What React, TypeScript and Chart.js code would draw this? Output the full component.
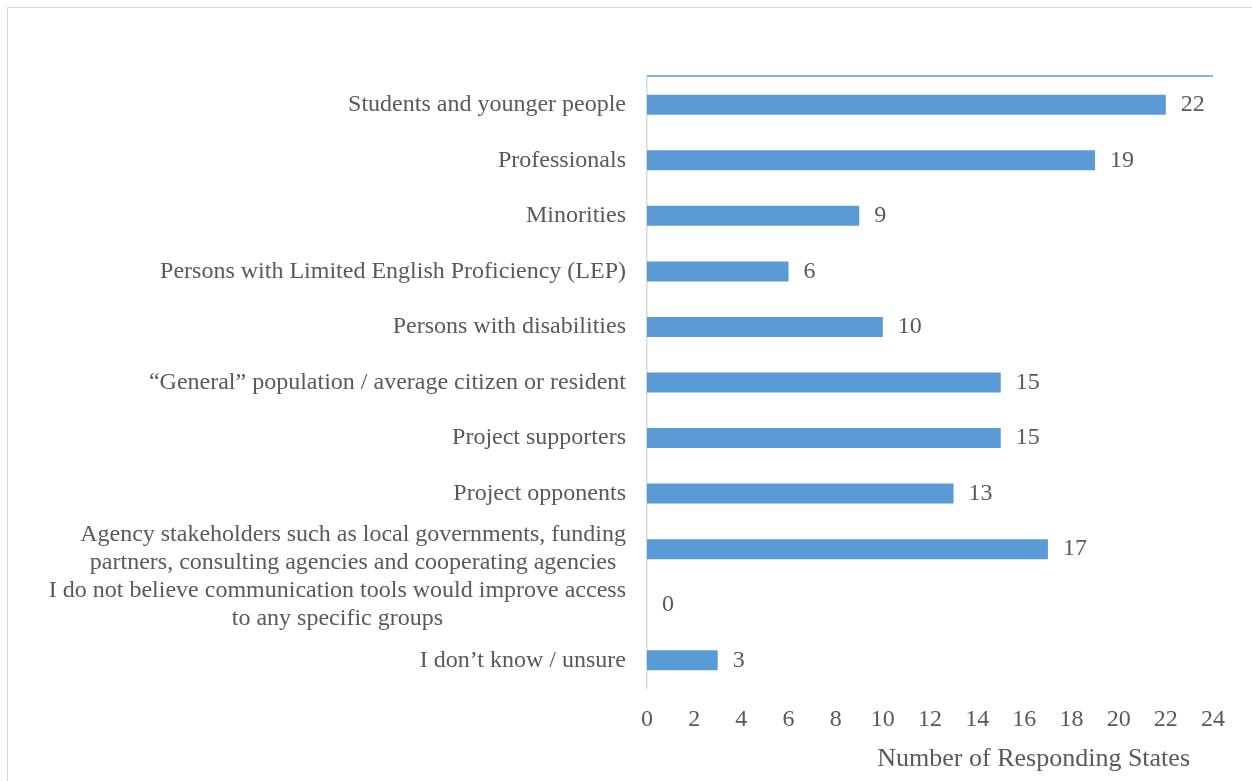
import React, { useEffect, useRef } from "react";
import { Chart, registerables } from "chart.js";

Chart.register(...registerables);

const categories: string[][] = [
  ["Students and younger people"],
  ["Professionals"],
  ["Minorities"],
  ["Persons with Limited English Proficiency (LEP)"],
  ["Persons with disabilities"],
  ["\u201CGeneral\u201D population / average citizen or resident"],
  ["Project supporters"],
  ["Project opponents"],
  ["Agency stakeholders such as local governments, funding", "partners, consulting agencies and cooperating agencies"],
  ["I do not believe communication tools would improve access", "to any specific groups"],
  ["I don\u2019t know / unsure"],
];

const values: number[] = [22, 19, 9, 6, 10, 15, 15, 13, 17, 0, 3];

const xMin = 0;
const xMax = 24;
const xStep = 2;

const axisTitle = "Number of Responding States";

const FONT = '"Liberation Serif", "Times New Roman", serif';
const TEXT_COLOR = "#595959";
const BAR_COLOR = "#5b9bd5";

const customPlugin = {
  id: "custom",
  afterDraw(chart: any) {
    const { ctx, chartArea } = chart;
    const yScale = chart.scales.y;
    ctx.save();
    // top blue line
    ctx.strokeStyle = BAR_COLOR;
    ctx.lineWidth = 1.5;
    ctx.beginPath();
    ctx.moveTo(chartArea.left, chartArea.top - 1);
    ctx.lineTo(chartArea.right, chartArea.top - 1);
    ctx.stroke();

    // y labels
    ctx.font = `24px ${FONT}`;
    ctx.fillStyle = TEXT_COLOR;
    ctx.textBaseline = "middle";
    ctx.textAlign = "center";
    const lineHeight = 28;
    const right = chartArea.left - 21;
    categories.forEach((lines, i) => {
      const y = yScale.getPixelForValue(i);
      const blockW = Math.max(...lines.map((l) => ctx.measureText(l).width));
      const cx = right - blockW / 2;
      lines.forEach((l, j) => {
        const ly = y + (j - (lines.length - 1) / 2) * lineHeight;
        ctx.fillText(l, cx, ly);
      });
    });

    // value labels
    ctx.textAlign = "left";
    const meta = chart.getDatasetMeta(0);
    meta.data.forEach((el: any, i: number) => {
      ctx.fillText(String(values[i]), el.x + 15, el.y);
    });

    // axis title
    ctx.font = `26px ${FONT}`;
    ctx.textAlign = "right";
    ctx.fillText(axisTitle, chartArea.right - 23, chart.height - 22);
    ctx.restore();
  },
};

export default function App() {
  const ref = useRef<HTMLCanvasElement>(null);
  useEffect(() => {
    if (!ref.current) return;
    const chart = new Chart(ref.current, {
      type: "bar",
      data: {
        labels: categories.map((c) => c.join(" ")),
        datasets: [
          {
            data: values,
            backgroundColor: BAR_COLOR,
            borderWidth: 0,
            categoryPercentage: 1,
            barPercentage: 0.36,
          },
        ],
      },
      options: {
        indexAxis: "y",
        animation: false,
        responsive: false,
        maintainAspectRatio: false,
        layout: { padding: { top: 77, right: 39, left: 0, bottom: 0 } },
        plugins: {
          legend: { display: false },
          tooltip: { enabled: false },
        },
        scales: {
          x: {
            min: xMin,
            max: xMax,
            grid: { display: false },
            border: { display: false },
            ticks: {
              stepSize: xStep,
              color: TEXT_COLOR,
              font: { family: FONT, size: 24 },
              padding: 9,
              maxRotation: 0,
              autoSkip: false,
            },
            afterFit(scale: any) {
              scale.height = 93;
            },
          },
          y: {
            grid: { display: false },
            border: { display: true, color: "#d9d9d9", width: 1.5 },
            ticks: { display: false },
            afterFit(scale: any) {
              scale.width = 647;
            },
          },
        },
      },
      plugins: [customPlugin],
    });
    return () => chart.destroy();
  }, []);

  return (
    <div style={{ position: "absolute", left: 0, top: 0, width: 1252, height: 781, background: "#fff", overflow: "hidden" }}>
      <div
        style={{
          position: "absolute",
          left: 7,
          top: 7,
          width: 1252,
          height: 781,
          borderLeft: "1.5px solid #d9d9d9",
          borderTop: "1.5px solid #d9d9d9",
        }}
      />
      <canvas ref={ref} width={1252} height={781} style={{ position: "absolute", left: 0, top: 0 }} />
    </div>
  );
}
